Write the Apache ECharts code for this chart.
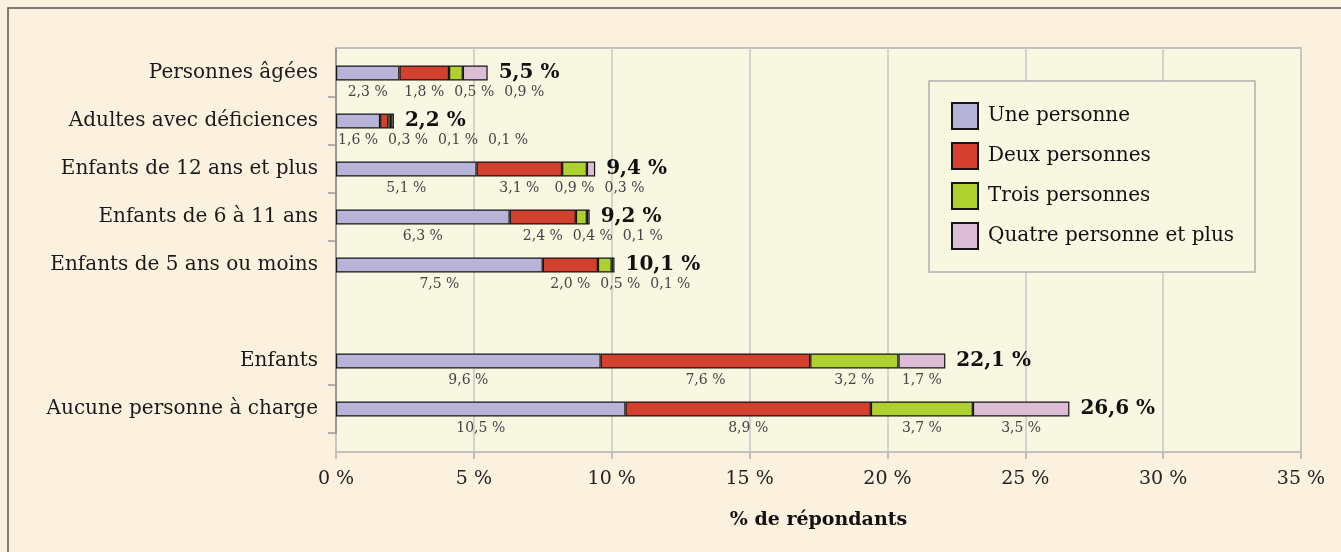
<!DOCTYPE html>
<html>
<head>
<meta charset="utf-8">
<script src="https://cdn.jsdelivr.net/npm/echarts@6/dist/echarts.min.js"></script>
<style>
  html, body { margin: 0; padding: 0; background: #fcf0de; }
  #chart { width: 1341px; height: 552px; }
</style>
</head>
<body>
<div id="chart"></div>
<script>
// catégories (l'entrée vide sert d'espace entre les deux groupes)
const categories = [
    'Personnes âgées',
    'Adultes avec déficiences',
    'Enfants de 12 ans et plus',
    'Enfants de 6 à 11 ans',
    'Enfants de 5 ans ou moins',
    '',
    'Enfants',
    'Aucune personne à charge'
];
const seriesNames = ['Une personne', 'Deux personnes', 'Trois personnes', 'Quatre personne et plus'];
const une = [2.3, 1.6, 5.1, 6.3, 7.5, null, 9.6, 10.5];
const deux = [1.8, 0.3, 3.1, 2.4, 2.0, null, 7.6, 8.9];
const trois = [0.5, 0.1, 0.9, 0.4, 0.5, null, 3.2, 3.7];
const quatre = [0.9, 0.1, 0.3, 0.1, 0.1, null, 1.7, 3.5];
const totals = [5.5, 2.2, 9.4, 9.2, 10.1, null, 22.1, 26.6];
const xTicks = [0, 5, 10, 15, 20, 25, 30, 35];
const colors = ['#b8b4d8', '#d4402d', '#aed130', '#ddbdd6'];

const seriesValues = [une, deux, trois, quatre];
const serif = 'DejaVu Serif';
const pct = v => v.toFixed(1).replace('.', ',') + ' %';

const chart = echarts.init(document.getElementById('chart'));

const segmentSeries = seriesValues.map((vals, s) => ({
    name: seriesNames[s],
    type: 'bar',
    stack: 'total',
    barWidth: 15,
    xAxisIndex: 0,
    yAxisIndex: 0,
    itemStyle: { color: colors[s], borderColor: '#151515', borderWidth: 1.2 },
    label: {
        show: true,
        position: 'bottom',
        distance: 5,
        fontFamily: serif,
        fontSize: 14,
        color: '#444',
        formatter: p => pct(p.value)
    },
    data: vals.map(v => (v == null ? '-' : v))
}));

// série vide en bout de pile pour afficher les totaux
const totalSeries = {
    name: 'Total',
    type: 'bar',
    stack: 'total',
    barWidth: 15,
    xAxisIndex: 0,
    yAxisIndex: 0,
    itemStyle: { color: 'transparent', borderWidth: 0 },
    label: {
        show: true,
        position: 'right',
        distance: 11,
        fontFamily: serif,
        fontWeight: 'bold',
        fontSize: 20,
        color: '#111',
        formatter: p => pct(totals[p.dataIndex])
    },
    data: totals.map(v => (v == null ? '-' : 0))
};

const option = {
    backgroundColor: '#fcf0de',
    animation: false,
    graphic: [{
        type: 'rect',
        shape: { x: 8, y: 8, width: 1400, height: 600 },
        style: { fill: 'none', stroke: '#555', lineWidth: 1.5 },
        z: 100
    }],
    legend: {
        orient: 'vertical',
        left: 929,
        top: 81,
        data: seriesNames,
        icon: 'rect',
        itemWidth: 26,
        itemHeight: 26,
        itemGap: 12,
        padding: [21, 21, 22, 22],
        backgroundColor: '#f8f7e2',
        borderColor: '#b0b0b0',
        borderWidth: 1.5,
        textStyle: {
            fontFamily: serif, fontSize: 20, color: '#111',
            lineHeight: 26, padding: [0, 0, 0, 5]
        }
    },
    grid: [
        // barres
        { left: 336, right: 40, top: 49, height: 384, containLabel: false },
        // fond du graphique, quadrillage et axe des x
        {
            left: 336, right: 40, top: 48, bottom: 100, show: true,
            backgroundColor: '#f8f7e2', borderColor: '#b0b0b0', borderWidth: 1.5
        }
    ],
    xAxis: [
        { gridIndex: 0, type: 'value', min: 0, max: 35, show: false },
        {
            gridIndex: 1, type: 'value', min: xTicks[0], max: xTicks[xTicks.length - 1], interval: 5,
            axisLine: { show: false },
            axisTick: { show: true, length: 7, lineStyle: { color: '#b0b0b0', width: 1.5 } },
            splitLine: { show: true, lineStyle: { color: '#c8c8c8', width: 1.5 } },
            axisLabel: {
                margin: 18, fontFamily: serif, fontSize: 19, color: '#222',
                formatter: v => v + ' %'
            },
            name: '% de répondants',
            nameLocation: 'middle',
            nameGap: 59,
            nameTextStyle: { fontFamily: serif, fontWeight: 'bold', fontSize: 19, color: '#111' }
        }
    ],
    yAxis: [
        {
            gridIndex: 0, type: 'category', inverse: true, data: categories,
            axisLine: { show: true, lineStyle: { color: '#9a9a9a', width: 2 } },
            axisTick: {
                show: true, length: 8,
                lineStyle: { color: '#999', width: 1.5 },
                interval: idx => idx > 0 && idx < categories.length &&
                    categories[idx] !== '' && categories[idx - 1] !== ''
            },
            axisLabel: { margin: 18, fontFamily: serif, fontSize: 20, color: '#1a1a1a' }
        },
        { gridIndex: 1, type: 'value', show: false }
    ],
    series: segmentSeries.concat([totalSeries])
};

chart.setOption(option);

// décale les étiquettes qui se chevauchent sous chaque barre
const minGap = 50;
const offsets = seriesValues.map(() => categories.map(() => 0));
categories.forEach((cat, i) => {
    if (!cat) return;
    let start = 0;
    let lastX = -Infinity;
    seriesValues.forEach((vals, s) => {
        const v = vals[i];
        const cx = chart.convertToPixel({ xAxisIndex: 0 }, start + v / 2);
        const x = Math.max(cx, lastX + minGap);
        offsets[s][i] = x - cx;
        lastX = x;
        start += v;
    });
});

chart.setOption({
    series: seriesValues.map((vals, s) => ({
        data: vals.map((v, i) => (v == null ? '-' : { value: v, label: { offset: [offsets[s][i], 0] } }))
    }))
});
</script>
</body>
</html>
